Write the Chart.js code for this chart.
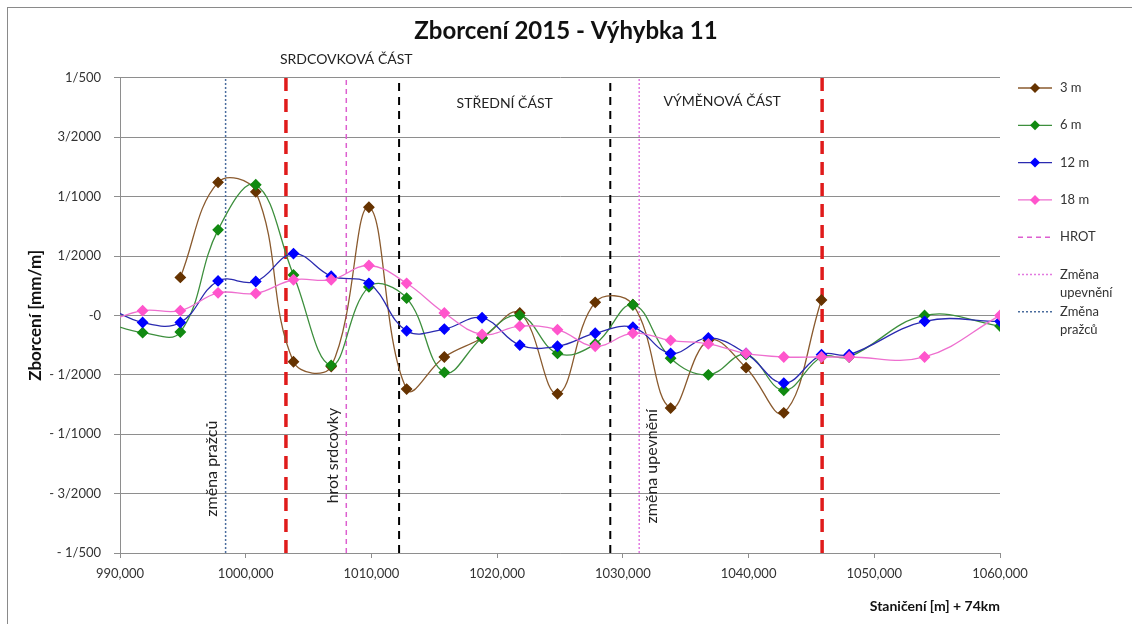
<!DOCTYPE html>
<html lang="cs">
<head>
<meta charset="utf-8">
<title>Zborcení 2015 - Výhybka 11</title>
<script src="https://cdn.jsdelivr.net/npm/chart.js@4/dist/chart.umd.min.js"></script>
<style>
  html, body { margin: 0; padding: 0; background: #fff; }
  #wrap { position: relative; width: 1132px; height: 624px; }
  #frame { position: absolute; left: 7px; top: 7px; right: 0; bottom: 0;
           border-top: 1px solid #8a8a8a; border-left: 1px solid #8a8a8a; }
  #chart { position: absolute; left: 0; top: 0; }
</style>
</head>
<body>
<div id="wrap">
  <div id="frame"></div>
  <canvas id="chart" width="1132" height="624"></canvas>
</div>
<script>
// --- Data (staničení v m, zborcení jako poměr) ---
const stations = [988.8, 991.8, 994.8, 997.8, 1000.8, 1003.8, 1006.8, 1009.8, 1012.8, 1015.8,
                  1018.8, 1021.8, 1024.8, 1027.8, 1030.8, 1033.8, 1036.8, 1039.8, 1042.8, 1045.8,
                  1048.0, 1054.0, 1060.0];

const twist3m  = [null, null, 0.00032, 0.00112, 0.00104, -0.00039, -0.00043, 0.00091, -0.00062, -0.00035,
                  -0.00019, 0.00002, -0.00066, 0.00011, 0.00009, -0.00078, -0.00021, -0.00044, -0.00082, 0.00013,
                  null, null, null];
const twist6m  = [-0.00006, -0.000145, -0.00014, 0.00072, 0.0011, 0.00034, -0.00042, 0.00024, 0.000145, -0.00048,
                  -0.00019, 0.0, -0.00032, -0.00024, 0.00009, -0.00036, -0.0005, -0.00033, -0.00063, -0.00035,
                  -0.00035, 0.0, -0.00009];
const twist12m = [0.00008, -0.00006, -0.00006, 0.00029, 0.000285, 0.00052, 0.00033, 0.00027, -0.00013, -0.000115,
                  -0.00002, -0.00025, -0.00026, -0.00015, -0.0001, -0.00032, -0.00019, -0.00032, -0.00057, -0.00033,
                  -0.00033, -0.00005, -0.00005];
const twist18m = [-0.00006, 0.00004, 0.00004, 0.00019, 0.000185, 0.0003, 0.0003, 0.00042, 0.00027, 0.00002,
                  -0.00016, -0.00009, -0.00012, -0.00026, -0.00015, -0.00021, -0.00024, -0.00032, -0.00035, -0.00035,
                  -0.00035, -0.00035, 0.0];

// svislé značky (staničení)
const hrotAt = 1008.0;
const upevneniAt = 1031.3;
const prazceAt = 998.4;
const vyhybkaBounds = [1003.2, 1045.85];   // červené
const castBounds = [1012.2, 1029.0];        // černé

const yTickLabels = ['- 1/500', '- 3/2000', '- 1/1000', '- 1/2000', '-0', '1/2000', '1/1000', '3/2000', '1/500'];

const sectionLabels = [
  { text: 'SRDCOVKOVÁ ČÁST', x: 1008.0, y: 0.00215 },
  { text: 'STŘEDNÍ ČÁST', x: 1020.6, y: 0.00178 },
  { text: 'VÝMĚNOVÁ ČÁST', x: 1037.9, y: 0.0018 }
];
const rotatedLabels = [
  { text: 'změna pražců', x: 997.3, y: -0.00129 },
  { text: 'hrot srdcovky', x: 1006.9, y: -0.00118 },
  { text: 'změna upevnění', x: 1032.3, y: -0.00127 }
];

// --- pomocné funkce ---
function toPoints(values) {
  const pts = [];
  values.forEach((v, i) => { if (v !== null) pts.push({ x: stations[i], y: v }); });
  return pts;
}

function vLine(x) {
  return [{ x: x, y: -0.002 }, { x: x, y: 0.002 }];
}

// order: nižší číslo se kreslí navrch (18 m nahoře, 3 m vespod)
function seriesDataset(label, values, line, marker, order) {
  return {
    label: label,
    data: toPoints(values),
    borderColor: line,
    backgroundColor: marker,
    pointBackgroundColor: marker,
    pointBorderColor: marker,
    pointStyle: 'rectRot',
    pointRadius: 5,
    borderWidth: 1.3,
    tension: 0.4,
    order: order,
    inLegend: true
  };
}

function markerDataset(label, x, color, width, dash, inLegend) {
  return {
    label: label,
    data: vLine(x),
    borderColor: color,
    borderWidth: width,
    borderDash: dash,
    pointRadius: 0,
    tension: 0,
    order: 10,
    inLegend: inLegend
  };
}

// --- plugin: popisky úseků ---
const labelsPlugin = {
  id: 'sectionLabels',
  afterDatasetsDraw(chart) {
    const ctx = chart.ctx;
    const xs = chart.scales.x, ys = chart.scales.y;
    ctx.save();
    ctx.fillStyle = '#222';
    ctx.textAlign = 'center';
    ctx.textBaseline = 'middle';
    ctx.font = '14px Lato';
    sectionLabels.forEach(l => {
      ctx.fillText(l.text, xs.getPixelForValue(l.x), ys.getPixelForValue(l.y));
    });
    ctx.font = '16px Lato';
    rotatedLabels.forEach(l => {
      ctx.save();
      ctx.translate(xs.getPixelForValue(l.x), ys.getPixelForValue(l.y));
      ctx.rotate(-Math.PI / 2);
      ctx.fillText(l.text, 0, 0);
      ctx.restore();
    });
    ctx.restore();
  }
};

// --- plugin: legenda vpravo (čára + značka jako v Excelu) ---
const sideLegend = {
  id: 'sideLegend',
  afterDraw(chart) {
    const ctx = chart.ctx;
    const x0 = chart.chartArea.right + 18;
    let y = 88;
    chart.data.datasets.forEach(ds => {
      if (!ds.inLegend) return;
      ctx.save();
      ctx.strokeStyle = ds.borderColor;
      ctx.lineWidth = Math.min(ds.borderWidth, 2);
      ctx.setLineDash(ds.borderDash || []);
      ctx.beginPath();
      ctx.moveTo(x0, y);
      ctx.lineTo(x0 + 34, y);
      ctx.stroke();
      if (ds.pointRadius > 0) {
        ctx.setLineDash([]);
        ctx.fillStyle = ds.pointBackgroundColor;
        ctx.beginPath();
        ctx.moveTo(x0 + 17, y - 5);
        ctx.lineTo(x0 + 22, y);
        ctx.lineTo(x0 + 17, y + 5);
        ctx.lineTo(x0 + 12, y);
        ctx.closePath();
        ctx.fill();
      }
      ctx.fillStyle = '#333';
      ctx.font = '13px Lato';
      ctx.textBaseline = 'middle';
      ds.label.split('\n').forEach((t, i) => ctx.fillText(t, x0 + 42, y + i * 18));
      ctx.restore();
      y += 37.3;
    });
  }
};

Chart.defaults.font.family = 'Lato';
Chart.defaults.color = '#333';

const ctx = document.getElementById('chart');
new Chart(ctx, {
  type: 'line',
  data: {
    datasets: [
      seriesDataset('3 m', twist3m, '#8a5a2e', '#663300', 4),
      seriesDataset('6 m', twist6m, '#3d8f3d', '#118a11', 3),
      seriesDataset('12 m', twist12m, '#2a2ab0', '#0000ff', 2),
      seriesDataset('18 m', twist18m, '#ee6fcf', '#ff55cc', 1),
      markerDataset('HROT', hrotAt, '#dd5fd0', 1.5, [5, 4], true),
      markerDataset('Změna\nupevnění', upevneniAt, '#e27ae0', 1.5, [2, 2], true),
      markerDataset('Změna\npražců', prazceAt, '#4b6d9e', 1.5, [2, 2], true),
      markerDataset('', vyhybkaBounds[0], '#e01b1b', 3.5, [13, 8], false),
      markerDataset('', vyhybkaBounds[1], '#e01b1b', 3.5, [13, 8], false),
      markerDataset('', castBounds[0], '#000', 2, [8, 6], false),
      markerDataset('', castBounds[1], '#000', 2, [8, 6], false)
    ]
  },
  options: {
    responsive: false,
    animation: false,
    layout: { padding: 0 },
    plugins: {
      legend: { display: false },
      tooltip: { enabled: false },
      title: {
        display: true,
        text: 'Zborcení 2015 - Výhybka 11',
        color: '#111',
        font: { size: 24, weight: 'bold' },
        padding: { top: 17, bottom: 32 }
      }
    },
    scales: {
      x: {
        type: 'linear',
        min: 990,
        max: 1060,
        ticks: {
          stepSize: 10,
          padding: 8,
          font: { size: 13 },
          color: '#333',
          callback: v => v.toFixed(3).replace('.', ',')
        },
        grid: { drawOnChartArea: false, drawTicks: true, tickLength: 5, color: '#8e8e8e' },
        border: { color: '#8e8e8e' },
        title: {
          display: true,
          text: 'Staničení [m] + 74km',
          align: 'end',
          color: '#111',
          font: { size: 14, weight: 'bold' },
          padding: { top: 0, bottom: 9 }
        },
        afterFit: s => { s.height = 71; }
      },
      y: {
        min: -0.002,
        max: 0.002,
        ticks: {
          stepSize: 0.0005,
          padding: 13,
          font: { size: 13 },
          color: '#333',
          callback: (v, i) => yTickLabels[i]
        },
        grid: { color: '#8e8e8e', tickLength: 6 },
        border: { color: '#8e8e8e' },
        title: {
          display: true,
          text: 'Zborcení [mm/m]',
          color: '#111',
          font: { size: 17, weight: 'bold' },
          padding: { top: 25, bottom: 0 }
        },
        afterFit: s => { s.width = 120; }
      },
      yRight: {
        position: 'right',
        display: true,
        ticks: { display: false },
        grid: { display: false },
        border: { display: false },
        afterFit: s => { s.width = 132; }
      }
    }
  },
  plugins: [labelsPlugin, sideLegend]
});
</script>
</body>
</html>
